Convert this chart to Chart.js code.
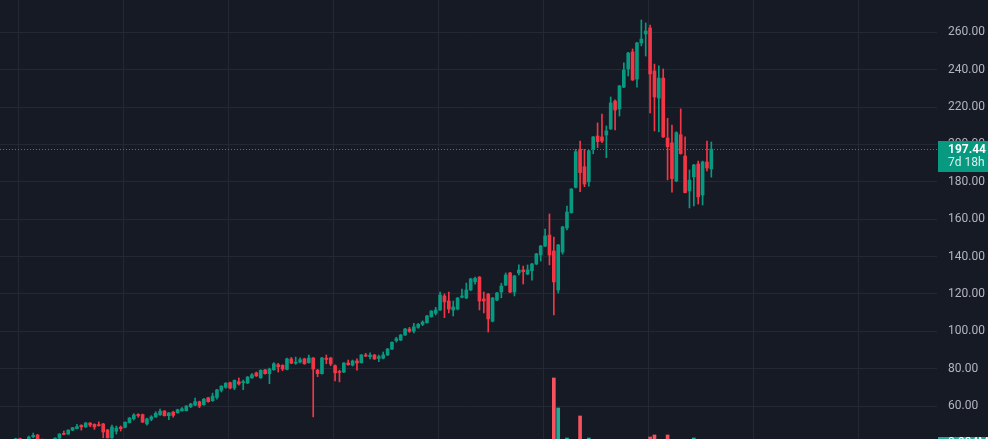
<!DOCTYPE html>
<html>
<head>
<meta charset="utf-8">
<script src="https://cdn.jsdelivr.net/npm/chart.js@4.4.1/dist/chart.umd.min.js"></script>
<style>
  html, body { margin: 0; padding: 0; background: #161a25; overflow: hidden; }
  canvas { display: block; }
</style>
</head>
<body>
<canvas id="chart" width="988" height="439"></canvas>
<script>
// weekly candles, oldest first
const opens = [
  41.5, 42.6, 40.5, 41.5, 43.6, 44.5, 42.2, 40.5, 41.8, 41.5,
  42.9, 45.2, 45.0, 47.1, 47.9, 49.7, 48.8, 50.9, 50.2, 49.8,
  50.4, 47.2, 43.0, 46.5, 48.7, 48.6, 51.1, 53.2, 55.3, 55.4,
  50.4, 52.9, 54.1, 55.3, 57.3, 54.8, 56.7, 56.4, 57.4, 57.5,
  59.6, 60.5, 62.3, 60.7, 64.4, 62.8, 64.6, 68.4, 70.0, 72.5,
  69.6, 73.0, 72.5, 72.3, 75.1, 77.7, 75.1, 79.3, 77.3, 79.4,
  82.1, 81.8, 79.6, 85.2, 82.9, 83.5, 85.2, 83.2, 85.7, 79.2,
  77.3, 85.6, 85.7, 81.6, 78.3, 78.2, 83.0, 81.9, 84.1, 83.2,
  87.3, 86.4, 87.3, 85.5, 85.6, 87.3, 90.5, 95.0, 95.3, 98.0,
  101.2, 100.1, 102.1, 103.7, 104.6, 107.8, 109.6, 111.4, 118.9, 116.2,
  111.4, 111.9, 118.2, 117.8, 122.1, 126.5, 129.0, 117.3, 119.9, 105.4,
  116.7, 121.0, 124.7, 131.2, 121.0, 131.2, 132.8, 130.6, 132.4, 136.0,
  140.8, 145.6, 151.5, 143.0, 122.1, 142.4, 155.3, 163.5, 177.0, 197.4,
  188.1, 180.0, 197.5, 204.5, 204.0, 205.0, 208.3, 223.2, 219.0, 230.7,
  240.4, 249.5, 235.0, 254.3, 259.1, 262.3, 239.3, 224.8, 235.5, 203.4,
  200.8, 180.4, 205.2, 193.8, 175.1, 182.6, 189.5, 172.9, 190.6, 186.9
];
const highs = [
  42.8, 42.8, 42.1, 43.9, 45.5, 44.8, 42.3, 42.2, 42.2, 43.0,
  45.2, 46.6, 47.3, 48.6, 50.2, 50.0, 51.2, 51.1, 50.5, 51.5,
  50.7, 47.5, 49.8, 49.3, 49.3, 51.5, 53.8, 55.9, 55.9, 55.7,
  53.6, 54.8, 56.9, 58.4, 57.6, 56.5, 57.2, 58.3, 59.1, 60.2,
  61.4, 64.3, 62.6, 64.0, 64.7, 66.9, 68.9, 70.9, 72.5, 72.8,
  74.0, 75.0, 73.9, 75.8, 77.3, 78.2, 79.4, 79.6, 80.3, 83.2,
  82.8, 82.1, 85.7, 86.0, 86.2, 85.8, 85.6, 87.3, 86.0, 79.6,
  86.1, 87.3, 86.0, 82.0, 79.2, 83.3, 84.6, 84.6, 85.2, 87.6,
  88.2, 88.4, 87.6, 87.3, 88.9, 90.8, 94.4, 96.8, 98.3, 101.6,
  102.1, 104.2, 104.2, 105.6, 108.5, 111.1, 112.8, 121.0, 120.0, 121.0,
  116.2, 118.1, 122.6, 125.8, 128.4, 129.0, 129.3, 121.0, 120.3, 118.1,
  120.8, 125.7, 131.2, 131.5, 129.9, 135.5, 134.9, 135.5, 136.3, 141.7,
  146.0, 154.7, 162.8, 150.4, 146.5, 156.2, 167.0, 176.4, 197.4, 201.8,
  197.4, 197.0, 204.3, 211.5, 216.3, 209.9, 225.4, 223.8, 231.6, 243.6,
  249.3, 251.1, 254.6, 266.6, 265.0, 263.9, 243.0, 242.0, 240.4, 214.0,
  210.4, 206.8, 219.0, 204.1, 186.3, 189.3, 191.1, 191.1, 201.8, 201.3
];
const lows = [
  40.0, 41.0, 40.0, 41.2, 43.0, 41.5, 40.0, 39.8, 40.2, 41.0,
  42.5, 44.6, 44.8, 46.8, 47.7, 47.1, 48.5, 48.9, 47.5, 49.2,
  43.0, 42.8, 42.6, 45.0, 46.6, 48.3, 50.9, 52.5, 54.0, 51.1,
  49.8, 52.1, 53.9, 55.0, 54.6, 52.7, 54.0, 56.1, 57.2, 57.3,
  59.1, 60.2, 59.1, 60.4, 62.0, 62.5, 63.6, 67.5, 69.5, 69.2,
  68.7, 71.2, 68.7, 72.0, 74.8, 75.8, 74.8, 77.0, 71.9, 79.1,
  78.2, 78.9, 79.3, 82.6, 82.3, 83.0, 82.3, 82.9, 54.2, 75.7,
  77.0, 82.6, 81.6, 73.4, 72.9, 77.9, 81.8, 81.4, 79.2, 82.9,
  86.4, 85.2, 84.9, 83.7, 85.2, 87.0, 90.2, 94.2, 95.0, 97.8,
  99.4, 99.1, 101.6, 103.0, 104.3, 107.5, 108.7, 111.1, 107.3, 109.8,
  108.2, 111.4, 117.8, 117.5, 121.8, 125.2, 111.4, 109.8, 99.6, 105.0,
  116.4, 117.9, 124.4, 120.7, 118.9, 130.1, 125.3, 130.3, 127.4, 135.7,
  137.6, 145.3, 135.5, 108.7, 120.5, 141.3, 154.2, 163.2, 176.7, 174.7,
  177.4, 177.7, 195.0, 198.3, 200.9, 192.9, 208.0, 207.7, 215.2, 230.4,
  236.6, 234.2, 230.7, 252.7, 247.3, 216.8, 207.2, 206.7, 203.7, 181.0,
  174.5, 180.0, 194.8, 174.0, 166.0, 167.1, 168.1, 167.6, 185.8, 182.5
];
const closes = [
  42.5, 42.0, 41.8, 43.4, 44.3, 42.3, 40.5, 41.8, 41.0, 42.8,
  45.0, 44.8, 47.1, 48.4, 49.0, 48.8, 50.9, 49.8, 48.8, 49.5,
  46.1, 43.0, 48.8, 48.2, 47.9, 51.3, 53.6, 55.2, 54.9, 51.4,
  53.1, 54.2, 56.1, 57.2, 54.8, 56.3, 55.0, 58.0, 58.5, 60.0,
  61.1, 62.3, 60.0, 63.7, 62.3, 65.3, 68.6, 70.6, 72.2, 69.6,
  73.7, 71.8, 73.0, 75.5, 76.7, 76.1, 79.1, 77.3, 79.8, 82.6,
  81.0, 79.8, 85.2, 82.9, 83.5, 84.8, 82.6, 85.7, 79.8, 77.3,
  85.7, 84.9, 82.5, 77.8, 78.0, 83.0, 82.1, 84.1, 83.0, 87.3,
  86.7, 87.2, 85.2, 86.4, 87.3, 90.5, 94.1, 96.0, 98.0, 101.2,
  100.0, 102.4, 103.7, 104.9, 108.2, 110.8, 111.4, 119.4, 115.7, 111.9,
  113.0, 117.8, 118.9, 122.1, 128.0, 128.3, 116.2, 116.2, 106.6, 117.8,
  120.5, 124.2, 130.1, 121.0, 129.6, 132.8, 131.9, 132.9, 136.0, 141.4,
  145.6, 151.0, 140.8, 126.4, 146.2, 155.8, 163.8, 176.1, 196.1, 184.9,
  178.8, 196.6, 204.0, 201.5, 201.8, 207.2, 222.2, 218.4, 231.3, 239.8,
  248.9, 234.5, 254.3, 256.4, 260.7, 237.7, 225.4, 235.5, 204.0, 198.8,
  181.7, 206.3, 195.0, 174.2, 180.9, 189.0, 171.9, 190.6, 187.4, 197.44
];
// volume in millions
const volumes = [
  0.42, 0.38, 0.35, 0.40, 0.44, 0.51, 0.39, 0.33, 0.36, 0.41,
  0.45, 0.37, 0.43, 0.40, 0.38, 0.42, 0.39, 0.36, 0.44, 0.35,
  0.62, 0.58, 0.55, 0.41, 0.37, 0.40, 0.43, 0.39, 0.34, 0.47,
  0.45, 0.38, 0.41, 0.40, 0.44, 0.39, 0.42, 0.37, 0.35, 0.40,
  0.38, 0.43, 0.41, 0.39, 0.40, 0.42, 0.46, 0.44, 0.41, 0.45,
  0.43, 0.40, 0.44, 0.39, 0.38, 0.41, 0.43, 0.40, 0.52, 0.45,
  0.42, 0.44, 0.47, 0.46, 0.41, 0.40, 0.45, 0.43, 0.98, 0.61,
  0.55, 0.44, 0.46, 0.57, 0.50, 0.48, 0.42, 0.41, 0.45, 0.47,
  0.39, 0.40, 0.42, 0.41, 0.43, 0.46, 0.52, 0.44, 0.45, 0.49,
  0.43, 0.47, 0.42, 0.41, 0.50, 0.53, 0.48, 0.71, 0.74, 0.66,
  0.58, 0.55, 0.51, 0.60, 0.62, 0.49, 0.80, 0.64, 0.92, 0.77,
  0.58, 0.60, 0.66, 0.75, 0.68, 0.57, 0.61, 0.55, 0.63, 0.70,
  0.76, 0.88, 1.15, 4.31, 2.81, 1.10, 1.31, 1.12, 1.20, 2.41,
  1.18, 1.31, 0.95, 0.99, 1.05, 0.90, 1.02, 0.93, 0.97, 1.08,
  1.04, 1.12, 1.09, 1.17, 1.06, 1.36, 1.46, 1.19, 1.16, 1.46,
  1.18, 1.15, 1.10, 1.20, 1.05, 1.31, 1.08, 1.13, 0.96, 0.934
];
const weeks = opens.map((_, i) => i);
const yTicks = [60, 80, 100, 120, 140, 160, 180, 200, 220, 240, 260];
const gridWeeks = [0.75, 24.75, 48.75, 72.75, 96.75, 120.75, 144.75, 168.75, 192.75];
const lastPrice = 197.44;
const countdown = '7d 18h';
const lastVolume = 0.934;
const volumeLabel = '0.934M';

const UP = '#089981';
const DOWN = '#f23645';
const GRID = '#242834';

const isUp = weeks.map(i => closes[i] >= opens[i]);
const candleColors = isUp.map(u => u ? UP : DOWN);
const volColors = isUp.map(u => u ? '#22ab94' : '#f7525f');

const priceMarkers = {
  id: 'priceMarkers',
  afterDatasetsDraw(chart) {
    const { ctx, chartArea, scales: { y } } = chart;
    const py = Math.round(y.getPixelForValue(lastPrice)) + 0.5;
    ctx.save();
    ctx.strokeStyle = UP;
    ctx.lineWidth = 1;
    ctx.setLineDash([1, 2]);
    ctx.beginPath();
    ctx.moveTo(chartArea.left, py);
    ctx.lineTo(chartArea.right, py);
    ctx.stroke();
    ctx.restore();
  },
  afterDraw(chart) {
    const { ctx, chartArea, scales: { y, yv } } = chart;
    const x0 = chartArea.right + 1;
    const py = y.getPixelForValue(lastPrice);
    ctx.save();
    ctx.fillStyle = UP;
    ctx.fillRect(x0, Math.round(py - 8), chart.width - x0, 31);
    ctx.textBaseline = 'middle';
    ctx.fillStyle = '#ffffff';
    ctx.font = 'bold 12px Roboto';
    ctx.fillText(lastPrice.toFixed(2), x0 + 10, py + 1);
    ctx.fillStyle = 'rgba(255,255,255,0.85)';
    ctx.font = '12px Roboto';
    ctx.fillText(countdown, x0 + 10, py + 14);

    // current volume tag, mostly below the visible area
    const vy = yv.getPixelForValue(lastVolume);
    ctx.fillStyle = '#22ab94';
    ctx.fillRect(x0, Math.round(vy - 8.5), chart.width - x0, 17);
    ctx.fillStyle = '#ffffff';
    ctx.fillText(volumeLabel, x0 + 10, vy - 3);
    ctx.restore();
  }
};

const ctx = document.getElementById('chart').getContext('2d');
new Chart(ctx, {
  type: 'bar',
  data: {
    datasets: [
      {
        label: 'Volume',
        data: weeks.map(i => ({ x: i, y: volumes[i] })),
        yAxisID: 'yv',
        backgroundColor: volColors,
        barThickness: 3,
        grouped: false,
        order: 3
      },
      {
        label: 'Wick',
        data: weeks.map(i => ({ x: i, y: [lows[i], highs[i]] })),
        backgroundColor: candleColors,
        barThickness: 1,
        grouped: false,
        order: 2
      },
      {
        label: 'Body',
        data: weeks.map(i => ({ x: i, y: [opens[i], closes[i]] })),
        backgroundColor: candleColors,
        barThickness: 3,
        minBarLength: 1,
        grouped: false,
        order: 1
      }
    ]
  },
  options: {
    responsive: false,
    animation: false,
    layout: { padding: 0 },
    plugins: {
      legend: { display: false },
      tooltip: { enabled: false }
    },
    scales: {
      x: {
        type: 'linear',
        min: -3.589,
        max: 210.58,
        offset: false,
        afterBuildTicks: s => { s.ticks = gridWeeks.map(v => ({ value: v })); },
        afterFit: s => { s.height = 0; s.paddingLeft = 0; s.paddingRight = 0; },
        ticks: { display: false },
        grid: { color: GRID, drawTicks: false, offset: false },
        border: { display: false }
      },
      y: {
        position: 'right',
        min: 42.34,
        max: 277.29,
        afterBuildTicks: s => { s.ticks = yTicks.map(v => ({ value: v })); },
        afterFit: s => { s.width = 51; s.paddingTop = 0; s.paddingBottom = 0; },
        ticks: {
          color: '#b2b5be',
          font: { family: 'Roboto', size: 12 },
          padding: 11,
          callback: v => v.toFixed(2)
        },
        grid: { color: GRID, drawTicks: false },
        border: { display: false }
      },
      yv: {
        type: 'linear',
        display: false,
        min: 1.259,
        max: 23.209
      }
    }
  },
  plugins: [priceMarkers]
});
</script>
</body>
</html>
